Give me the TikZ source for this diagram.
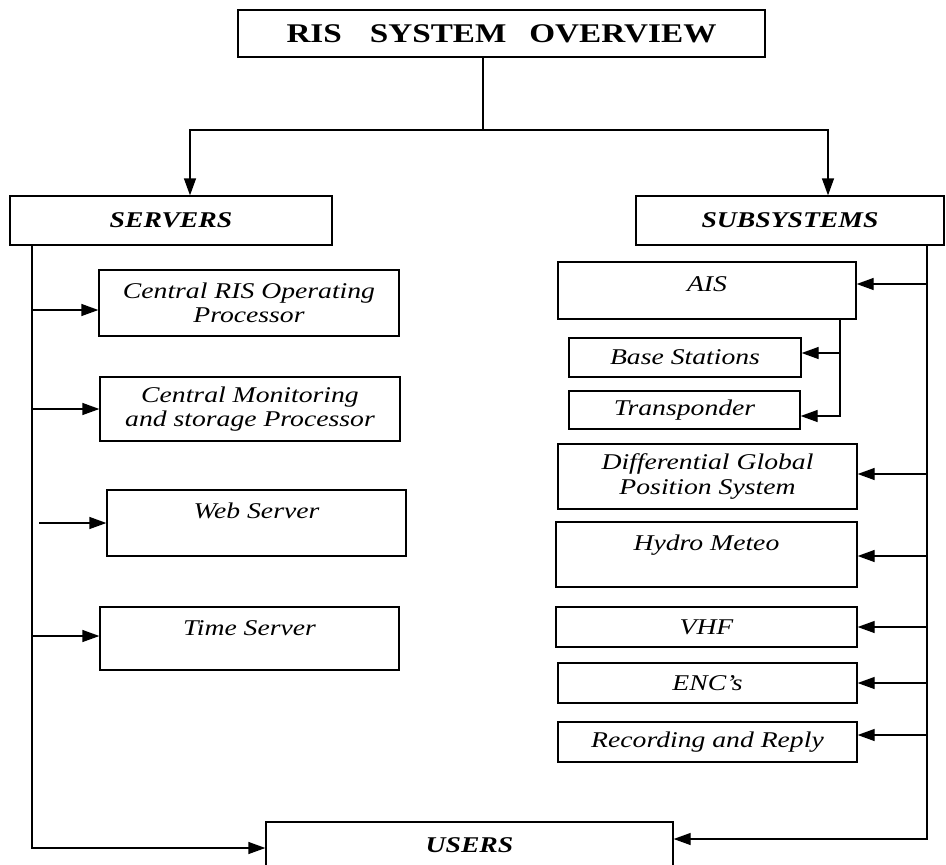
\documentclass[tikz,border=0pt]{standalone}
\usepackage{fontspec}
\setmainfont{Liberation Serif}[FakeStretch=1.23]
\usetikzlibrary{arrows.meta}
\begin{document}
\begin{tikzpicture}[x=1pt,y=-1pt,line width=1.3pt,
  box/.style={draw,rectangle,inner sep=2pt,align=center,font=\fontsize{22.5}{24.5}\selectfont\itshape},
  headbox/.style={box,font=\fontsize{22.5}{24.5}\selectfont\bfseries\itshape},
  arr/.style={-{Triangle[length=17pt,width=12pt]}}]
\clip (0,0) rectangle (946,865);
% top of the tree
\node[draw,minimum width=527pt,minimum height=47pt,font=\fontsize{27}{30}\selectfont\bfseries] (overview) at (501.5,33.5) {RIS\hspace{28pt}SYSTEM\hspace{23pt}OVERVIEW};
\node[headbox,minimum width=322pt,minimum height=49pt] (servers) at (171,220.5) {SERVERS};
\node[headbox,minimum width=308pt,minimum height=49pt] (subsys) at (790,220.5) {SUBSYSTEMS};
% servers side
\node[box,minimum width=300pt,minimum height=66pt] (ris) at (249,303) {Central RIS Operating\\Processor};
\node[box,minimum width=300pt,minimum height=64pt] (monitor) at (250,409) {Central Monitoring\\and storage Processor};
\node[box,minimum width=299pt,minimum height=66pt,text depth=24pt] (web) at (256.5,523) {Web Server};
\node[box,minimum width=299pt,minimum height=63pt,text depth=21pt] (time) at (249.5,638.5) {Time Server};
% subsystems side
\node[box,minimum width=298pt,minimum height=57pt,text depth=13pt] (ais) at (707,290.5) {AIS};
\node[box,minimum width=232pt,minimum height=39pt] (base) at (685,357.5) {Base Stations};
\node[box,minimum width=231pt,minimum height=38pt] (trans) at (684.5,410) {Transponder};
\node[box,minimum width=299pt,minimum height=65pt] (dgps) at (707.5,476.5) {Differential Global\\Position System};
\node[box,minimum width=301pt,minimum height=65pt,text depth=23pt] (hydro) at (706.5,554.5) {Hydro Meteo};
\node[box,minimum width=301pt,minimum height=40pt] (vhf) at (706.5,627) {VHF};
\node[box,minimum width=299pt,minimum height=40pt] (enc) at (707.5,683) {ENC’s};
\node[box,minimum width=299pt,minimum height=40pt] (record) at (707.5,742) {Recording and Reply};
\node[headbox,minimum width=407pt,minimum height=46pt] (users) at (469.5,845) {USERS};
% connectors
\coordinate (split) at (483,130);
\draw (overview.south -| split) -- (split);
\draw[arr] (split) -| ([xshift=19pt]servers.north);
\draw[arr] (split) -| ([xshift=38pt]subsys.north);
\coordinate (lbus) at ([xshift=-139pt]servers.south);
\draw[arr] (lbus) |- ([yshift=-3pt]users.west);
\foreach \n/\s in {ris/-7,monitor/0,time/2.5}
  \draw[arr] ([yshift=\s pt]\n.west -| lbus) -- ([yshift=\s pt]\n.west);
\draw[arr] ([xshift=7pt]lbus |- web.west) -- (web.west);
\coordinate (rbus) at ([xshift=137pt]subsys.south);
\draw[arr] (rbus) |- ([yshift=6pt]users.east);
\foreach \n/\s in {ais/6.5,dgps/2.5,hydro/-1.5,vhf/0,enc/0,record/7}
  \draw[arr] ([yshift=\s pt]\n.east -| rbus) -- ([yshift=\s pt]\n.east);
\coordinate (abus) at ([xshift=133pt]ais.south);
\draw[arr] (abus) |- ([yshift=-6pt]trans.east);
\draw[arr] ([yshift=4.5pt]base.east -| abus) -- ([yshift=4.5pt]base.east);
\end{tikzpicture}
\end{document}
